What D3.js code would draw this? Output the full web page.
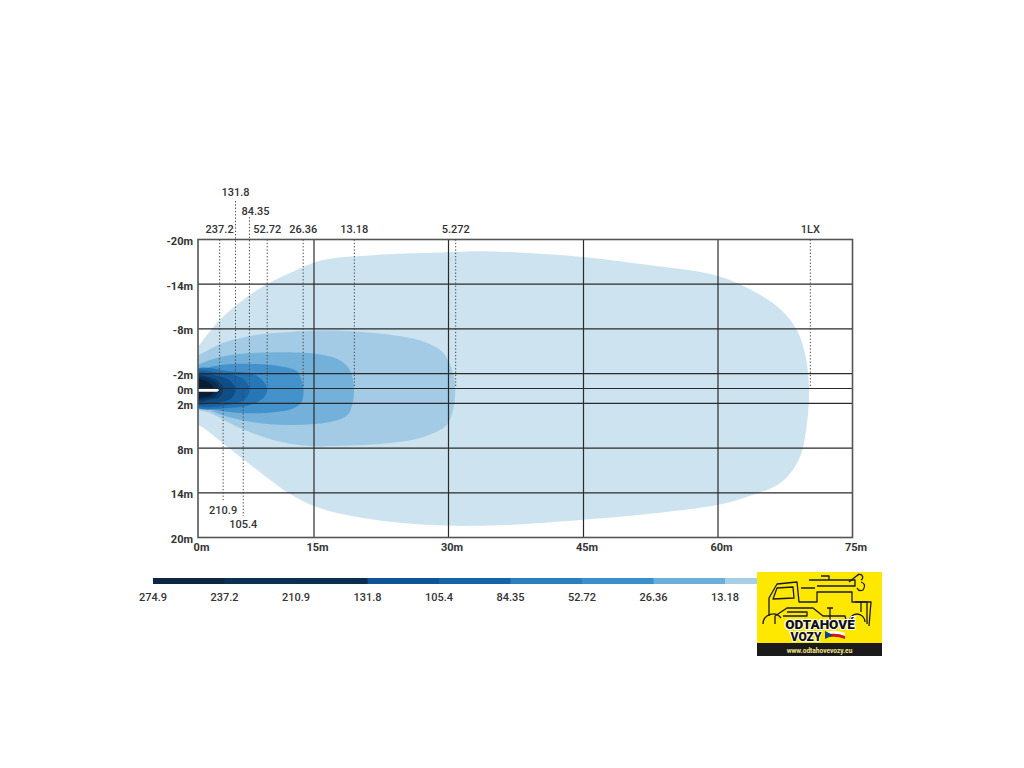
<!DOCTYPE html>
<html>
<head>
<meta charset="utf-8">
<script src="https://cdn.jsdelivr.net/npm/d3@7"></script>
<style>
  html, body { margin: 0; padding: 0; background: #ffffff; }
  svg { display: block; }
  text { font-family: Roboto, "DejaVu Sans", sans-serif; }
</style>
</head>
<body>
<svg id="chart" width="1024" height="768"></svg>
<script>
// ---------------- DATA ----------------
const xTicks = [0, 15, 30, 45, 60, 75];
const xTickLabels = ["0m", "15m", "30m", "45m", "60m", "75m"];
const yTicks = [-20, -14, -8, -2, 0, 2, 8, 14, 20];
const yTickLabels = ["-20m", "-14m", "-8m", "-2m", "0m", "2m", "8m", "14m", "20m"];

// isolux levels (outer to inner) and their fill colours
const levelNames = ["1LX", "5.272", "13.18", "26.36", "52.72", "84.35", "131.8", "210.9", "237.2", "274.9"];
const levelColors = ["#cde3f0", "#a3cbe5", "#74b1da", "#4392cb", "#2677b8", "#1763a3", "#0d4d88", "#0b3b69", "#0a2e52", "#071e36"];

// contour outlines: [distance m, lateral m]
const contour1LX = [[-1,4.6],[-1,-4.9],[0.3,-6.0],[3.2,-9.6],[7.6,-13.2],[11.9,-15.5],[16.0,-17.25],[21.6,-17.9],[29.0,-18.25],[34.6,-18.4],[44.6,-17.7],[52.1,-16.6],[60.0,-15.1],[63.9,-13.1],[66.9,-10.7],[68.8,-7.85],[69.8,-4.1],[70.15,0.2],[69.9,4.9],[69.1,9.3],[67.1,12.55],[63.2,14.55],[60.0,15.6],[52.1,16.85],[44.6,17.65],[34.6,18.4],[27.5,18.3],[19.8,17.25],[15.3,15.9],[11.9,14.15],[7.6,10.9],[3.2,7.3],[0.6,5.2]];
const contour5 = [[-1,2.5],[-1,-4.4],[0.3,-4.6],[3.2,-6.1],[7.6,-7.2],[11.9,-7.6],[17.9,-7.75],[23.5,-7.2],[27.2,-6.3],[29.4,-4.8],[30.5,-2.1],[30.75,0.2],[30.5,2.9],[29.8,4.9],[27.2,6.5],[23.5,7.3],[17.9,7.7],[14.1,7.7],[9.7,6.9],[5.4,5.3],[1.6,3.3]];
const contour13 = [[-1,2.0],[-1,-2.9],[0.5,-3.4],[3.2,-4.3],[7.6,-4.8],[11.9,-4.85],[16.0,-4.5],[17.9,-3.8],[19.0,-2.5],[19.45,-0.2],[19.3,2.0],[18.7,3.6],[16.8,4.5],[11.9,4.9],[7.6,4.6],[3.2,3.6],[0.5,2.3]];
const contour26 = [[-1,2.0],[-1,-2.3],[0.5,-2.6],[3.2,-3.2],[7.6,-3.3],[10.6,-3.0],[12.8,-2.3],[13.5,-0.7],[13.65,0.2],[13.4,1.8],[12.3,2.7],[9.7,3.2],[5.4,3.3],[2.4,2.9],[0.5,2.3]];
const contour52 = [[-1,2.4],[-1,-2.5],[4.1,-2.3],[7.6,-1.7],[8.95,0.0],[8.5,1.2],[7.0,2.1],[4.1,2.6]];
const contour84 = [[-1,2.1],[-1,-2.2],[3.3,-2.0],[5.8,-1.3],[6.65,0.1],[6.1,1.4],[3.8,2.2]];
const contour131 = [[-1,1.9],[-1,-1.9],[2.5,-1.7],[4.3,-0.9],[4.85,0.2],[4.3,1.3],[2.5,1.9]];
const contour210 = [[-1,1.6],[-1,-1.6],[1.8,-1.4],[3.0,-0.6],[3.25,0.3],[2.8,1.1],[1.5,1.5]];
const contour237 = [[-1,1.4],[-1,-1.4],[1.5,-1.2],[2.5,-0.5],[2.75,0.3],[2.3,1.0],[1.2,1.3]];
const contour274 = [[-1,1.2],[-1,-1.2],[1.0,-1.0],[1.8,-0.4],[2.1,0.3],[1.7,0.9],[0.8,1.15]];

// dotted reach markers: label, distance (m), label row (1 = highest)
const topMarkerLabels = ["237.2", "131.8", "84.35", "52.72", "26.36", "13.18", "5.272", "1LX"];
const topMarkerX = [2.8, 4.85, 6.65, 8.95, 13.6, 19.5, 30.8, 70.3];
const topMarkerRow = [3, 1, 2, 3, 3, 3, 3, 3];
const bottomMarkerLabels = ["210.9", "105.4"];
const bottomMarkerX = [3.25, 5.85];
const bottomMarkerRow = [1, 2];

// colour legend
const legendLabels = ["274.9", "237.2", "210.9", "131.8", "105.4", "84.35", "52.72", "26.36", "13.18"];
const legendColors = ["#0d2641", "#0c2f52", "#0b2d4f", "#0d5596", "#1465a8", "#2a7fbf", "#3a90ca", "#6aafd9", "#a6cee7"];

// ---------------- DRAW ----------------
const svg = d3.select("#chart");
const x = d3.scaleLinear().domain(xTicks).range([198, 314, 448.5, 583.5, 718, 852.5]);
const y = d3.scaleLinear().domain([-20, 20]).range([239.5, 537.5]);
const x0 = x(0), x1 = x(75), y0 = y(-20), y1 = y(20);

svg.append("clipPath").attr("id", "plotClip")
  .append("rect").attr("x", x0).attr("y", y0).attr("width", x1 - x0).attr("height", y1 - y0);

const area = d3.line().x(d => x(Math.max(d[0], 0)) + (d[0] < 0 ? d[0] * 3 : 0)).y(d => y(d[1]))
  .curve(d3.curveCatmullRomClosed.alpha(0.5));

const contours = [contour1LX, contour5, contour13, contour26, contour52, contour84, contour131, contour210, contour237, contour274];
const gFill = svg.append("g").attr("clip-path", "url(#plotClip)");
gFill.selectAll("path.band").data(contours).join("path")
  .attr("class", "band")
  .attr("d", d => area(d))
  .attr("fill", (d, i) => levelColors[i]);

// lamp marker (white bar)
const lampLen = 2.75;
gFill.append("path")
  .attr("d", `M${x(-1)},${y(0.05)} L${x(lampLen) - 2},${y(0.05)} L${x(lampLen)},${y(0.2)} L${x(lampLen) - 2},${y(0.42)} L${x(-1)},${y(0.42)} Z`)
  .attr("fill", "#ffffff");

// gridlines
const grid = svg.append("g").attr("stroke", "#2a2a2a").attr("stroke-width", 1.2);
grid.selectAll("line.v").data(xTicks.slice(1, -1)).join("line")
  .attr("x1", d => x(d)).attr("x2", d => x(d)).attr("y1", y0).attr("y2", y1);
grid.selectAll("line.h").data(yTicks.slice(1, -1)).join("line")
  .attr("y1", d => y(d)).attr("y2", d => y(d)).attr("x1", x0).attr("x2", x1);

// frame
svg.append("rect").attr("x", x0).attr("y", y0).attr("width", x1 - x0).attr("height", y1 - y0)
  .attr("fill", "none").attr("stroke", "#555").attr("stroke-width", 1.6);

// axes labels
const yAxis = d3.axisLeft(y).tickValues(yTicks).tickSize(0).tickPadding(5)
  .tickFormat((d, i) => yTickLabels[i]);
const gy = svg.append("g").attr("transform", `translate(${x0},0)`).call(yAxis);
gy.select(".domain").remove();
gy.selectAll("text").attr("font-size", 11).attr("font-weight", 700).attr("fill", "#333").attr("dy", "0.45em");

const xAxis = d3.axisBottom(x).tickValues(xTicks).tickSize(0).tickPadding(6)
  .tickFormat((d, i) => xTickLabels[i]);
const gx = svg.append("g").attr("transform", `translate(3,${y1})`).call(xAxis);
gx.select(".domain").remove();
gx.selectAll("text").attr("font-size", 11).attr("font-weight", 700).attr("fill", "#333");

// dotted markers
const dotted = svg.append("g").attr("stroke", "#444").attr("stroke-width", 1).attr("stroke-dasharray", "1.3,2");
const rowLabelY = {1: 192, 2: 211, 3: 229};
const rowLineTop = {1: 201, 2: 217, 3: y0};
const labelNudge = {"84.35": 6};
topMarkerX.forEach((m, i) => {
  dotted.append("line").attr("x1", x(m)).attr("x2", x(m))
    .attr("y1", rowLineTop[topMarkerRow[i]]).attr("y2", y(-0.2));
});
svg.append("g").selectAll("text").data(topMarkerLabels).join("text")
  .attr("x", (d, i) => x(topMarkerX[i]) + (labelNudge[d] || 0))
  .attr("y", (d, i) => rowLabelY[topMarkerRow[i]])
  .attr("dy", "0.35em").attr("text-anchor", "middle")
  .attr("font-size", 11).attr("font-weight", 500).attr("fill", "#333")
  .text(d => d);

const bRowLabelY = {1: 510, 2: 524};
bottomMarkerX.forEach((m, i) => {
  dotted.append("line").attr("x1", x(m)).attr("x2", x(m))
    .attr("y1", y(0.2)).attr("y2", bRowLabelY[bottomMarkerRow[i]] - 8);
});
svg.append("g").selectAll("text").data(bottomMarkerLabels).join("text")
  .attr("x", (d, i) => x(bottomMarkerX[i]))
  .attr("y", (d, i) => bRowLabelY[bottomMarkerRow[i]])
  .attr("dy", "0.35em").attr("text-anchor", "middle")
  .attr("font-size", 11).attr("font-weight", 500).attr("fill", "#333")
  .text(d => d);

// colour legend
const lx = d3.scaleBand().domain(d3.range(legendLabels.length)).range([153, 796.5]).paddingInner(0).paddingOuter(0);
const gl = svg.append("g");
gl.selectAll("rect").data(legendColors).join("rect")
  .attr("x", (d, i) => lx(i)).attr("y", 578).attr("width", lx.bandwidth() + 0.5).attr("height", 6)
  .attr("fill", d => d);
gl.selectAll("text").data(legendLabels).join("text")
  .attr("x", (d, i) => lx(i)).attr("y", 597).attr("dy", "0.35em")
  .attr("text-anchor", "middle").attr("font-size", 11).attr("font-weight", 500).attr("fill", "#333")
  .text(d => d);

// logo
const logo = svg.append("g").attr("transform", "translate(757,572)");
logo.append("rect").attr("width", 125).attr("height", 84).attr("fill", "#ffe800");
logo.append("rect").attr("y", 71).attr("width", 125).attr("height", 13).attr("fill", "#1a1a1a");
logo.append("text").attr("x", 62.5).attr("y", 80.5).attr("text-anchor", "middle")
  .attr("font-size", 6.6).attr("font-weight", 700).attr("fill", "#f5e88a").text("www.odtahovevozy.eu");
const art = logo.append("g").attr("fill", "none").attr("stroke", "#1a1a1a").attr("stroke-width", 1.3).attr("stroke-linejoin", "round");
// big truck cab
art.append("path").attr("d", "M12,44 L12,26 L20,12 L40,10 L42,30 L60,30 L60,20 L95,20 L95,30 L110,30 L110,52");
art.append("path").attr("d", "M20,16 L36,15 L37,26 L16,27 Z");
art.append("path").attr("d", "M44,16 L58,16 M52,8 L98,8 L98,14 L60,14 M64,4 L72,4 L72,8");
art.append("path").attr("d", "M92,10 L102,2 M100,4 A3,3 0 1 1 104,8");
art.append("path").attr("d", "M104,10 Q110,12 106,18 Q102,20 100,16");
art.append("path").attr("d", "M98,30 L114,30 L112,54 M104,30 L104,40");
// small car
art.append("path").attr("d", "M18,52 L18,44 L30,36 L56,36 L66,44 L88,44 L90,52");
art.append("path").attr("d", "M30,40 L50,40 L50,44 L26,44");
art.append("path").attr("d", "M70,36 L76,36 M73,36 L73,48");
art.append("path").attr("d", "M6,52 A10,10 0 0 1 24,46 M92,50 A8,8 0 0 1 108,50");
logo.append("text").attr("x", 63).attr("y", 57).attr("text-anchor", "middle")
  .attr("font-family", "'DejaVu Sans', sans-serif").attr("font-size", 13.5).attr("font-weight", 900)
  .attr("fill", "#111").attr("stroke", "#fff").attr("stroke-width", 2.2).attr("paint-order", "stroke")
  .text("ODTAHOVÉ");
logo.append("text").attr("x", 49).attr("y", 69).attr("text-anchor", "middle")
  .attr("font-family", "'DejaVu Sans', sans-serif").attr("font-size", 12).attr("font-weight", 900)
  .attr("fill", "#111").attr("stroke", "#fff").attr("stroke-width", 2).attr("paint-order", "stroke")
  .text("VOZY");
// flag wave
logo.append("path").attr("d", "M68,60 Q78,57 88,61 L88,64 Q78,60 68,63 Z").attr("fill", "#ffffff");
logo.append("path").attr("d", "M68,63 Q78,60 88,64 L88,67 Q78,63 68,66 Z").attr("fill", "#d7141a");
logo.append("path").attr("d", "M68,59 L76,63 L68,67 Z").attr("fill", "#11457e");
</script>
</body>
</html>
